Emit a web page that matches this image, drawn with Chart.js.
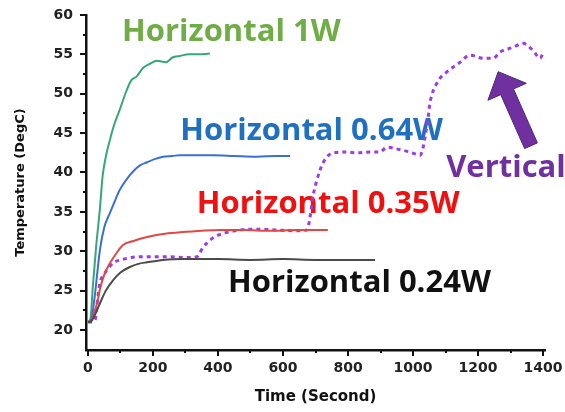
<!DOCTYPE html>
<html>
<head>
<meta charset="utf-8">
<script src="https://cdn.jsdelivr.net/npm/chart.js@4.4.1/dist/chart.umd.min.js"></script>
<style>
  html, body { margin: 0; padding: 0; background: #fff; }
  #wrap { width: 565px; height: 412px; }
</style>
</head>
<body>
<div id="wrap"><canvas id="tempChart" width="565" height="412"></canvas></div>
<script>
// --- data ----------------------------------------------------------------
const xTicks = [0, 200, 400, 600, 800, 1000, 1200, 1400];
const yTicks = [20, 25, 30, 35, 40, 45, 50, 55, 60];

const h1wTime = [0, 8, 15, 25, 37, 45, 55, 68, 80, 98, 115, 133, 150, 170, 190, 212, 240, 260, 283, 310, 340, 375];
const h1wTemp = [21, 21.5, 25.5, 30.5, 35.5, 39.5, 42, 44.2, 46, 48, 50, 51.7, 52.2, 53.3, 53.8, 54.2, 54.0, 54.6, 54.8, 55.0, 55.0, 55.1];

const h064Time = [0, 10, 20, 37, 50, 68, 85, 98, 120, 138, 160, 182, 205, 231, 260, 283, 330, 385, 450, 520, 580, 622];
const h064Temp = [21, 21.3, 24, 30.2, 33, 34.9, 36.6, 37.8, 39.2, 40.1, 40.9, 41.3, 41.7, 42.0, 42.1, 42.2, 42.2, 42.2, 42.1, 42.0, 42.1, 42.1];

const h035Time = [0, 10, 20, 28, 37, 50, 68, 90, 108, 140, 182, 230, 283, 350, 406, 480, 560, 640, 700, 738];
const h035Temp = [21, 21.2, 22.3, 23.4, 25.2, 27, 28.5, 29.9, 30.8, 31.3, 31.8, 32.2, 32.4, 32.6, 32.7, 32.7, 32.6, 32.7, 32.7, 32.7];

const h024Time = [0, 10, 20, 37, 55, 77, 100, 129, 155, 182, 231, 300, 400, 500, 600, 700, 800, 883];
const h024Temp = [21, 21.1, 21.8, 23.4, 25, 26.3, 27.3, 28, 28.4, 28.6, 28.9, 29, 29, 28.9, 29, 28.9, 28.9, 28.9];

const vertTime = [0, 10, 22, 30, 37, 48, 58, 77, 100, 120, 160, 200, 250, 300, 335, 354, 370, 385, 405, 428, 468, 520, 580, 640, 674,
  683, 692, 704, 723, 754, 797, 828, 868, 898, 920, 960, 990, 1022, 1030, 1037, 1045, 1052, 1074, 1105, 1145, 1175, 1215, 1246,
  1268, 1308, 1338, 1369, 1391, 1400];
const vertTemp = [21, 21, 21.3, 24, 26, 27, 27.6, 28.5, 28.9, 29.1, 29.3, 29.3, 29.3, 29.2, 29.3, 30.5, 31.2, 31.7, 32.1, 32.4, 32.7, 32.8, 32.7, 32.6, 32.7,
  34.3, 36.9, 39, 41.2, 42.5, 42.6, 42.5, 42.6, 42.6, 43.2, 42.9, 42.6, 42.2, 43, 44.5, 46.5, 48.8, 51.4, 52.8, 54, 54.9, 54.5, 54.5,
  55.3, 55.9, 56.4, 55.5, 54.5, 55.2];

// --- helpers --------------------------------------------------------------
function pts(xs, ys) {
  return xs.map(function (x, i) { return { x: x, y: ys[i] }; });
}

const LABEL_FONT = 'bold 31px "Open Sans"';

// curve labels, anchored in data units (left / baseline)
const curveLabels = [
  { text: 'Horizontal 1W',    color: '#70ad47', x: 105,  y: 56.7 },
  { text: 'Horizontal 0.64W', color: '#1f70c1', x: 284,  y: 44.1 },
  { text: 'Horizontal 0.35W', color: '#f01010', x: 335,  y: 34.9 },
  { text: 'Horizontal 0.24W', color: '#111111', x: 431,  y: 24.8 },
  { text: 'Vertical',         color: '#7030a0', x: 1102, y: 39.4 }
];
const arrowFrom = { x: 1363, y: 43.4 };
const arrowTo = { x: 1262, y: 52.8 };

// text + arrow under the curves, tick marks on the axes
const decorPlugin = {
  id: 'decor',
  beforeDatasetsDraw: function (chart) {
    const ctx = chart.ctx, xs = chart.scales.x, ys = chart.scales.y;
    ctx.save();
    ctx.font = LABEL_FONT;
    ctx.textAlign = 'left';
    ctx.textBaseline = 'alphabetic';
    curveLabels.forEach(function (l) {
      ctx.fillStyle = l.color;
      ctx.fillText(l.text, xs.getPixelForValue(l.x), ys.getPixelForValue(l.y));
    });

    // block arrow
    const x0 = xs.getPixelForValue(arrowFrom.x), y0 = ys.getPixelForValue(arrowFrom.y);
    const x1 = xs.getPixelForValue(arrowTo.x), y1 = ys.getPixelForValue(arrowTo.y);
    const len = Math.hypot(x1 - x0, y1 - y0);
    const ux = (x1 - x0) / len, uy = (y1 - y0) / len;
    const nx = -uy, ny = ux;
    const sw = 7, hw = 21, hl = 22;
    const bx = x1 - ux * hl, by = y1 - uy * hl;
    ctx.beginPath();
    ctx.moveTo(x0 + nx * sw, y0 + ny * sw);
    ctx.lineTo(bx + nx * sw, by + ny * sw);
    ctx.lineTo(bx + nx * hw, by + ny * hw);
    ctx.lineTo(x1, y1);
    ctx.lineTo(bx - nx * hw, by - ny * hw);
    ctx.lineTo(bx - nx * sw, by - ny * sw);
    ctx.lineTo(x0 - nx * sw, y0 - ny * sw);
    ctx.closePath();
    ctx.fillStyle = '#7030a0';
    ctx.fill();
    ctx.strokeStyle = '#4b2a7a';
    ctx.lineWidth = 1;
    ctx.stroke();
    ctx.restore();
  },
  afterDraw: function (chart) {
    const ctx = chart.ctx, xs = chart.scales.x, ys = chart.scales.y;
    const area = chart.chartArea;
    ctx.save();
    ctx.strokeStyle = '#111';
    ctx.lineWidth = 2;
    ctx.beginPath();
    for (let v = 0; v <= 1400; v += 100) {
      const px = Math.round(xs.getPixelForValue(v));
      ctx.moveTo(px, area.bottom);
      ctx.lineTo(px, area.bottom + (v % 200 === 0 ? 6 : 3));
    }
    for (let v = 20; v <= 60; v += 2.5) {
      const py = Math.round(ys.getPixelForValue(v));
      ctx.moveTo(area.left, py);
      ctx.lineTo(area.left - (v % 5 === 0 ? 6 : 3), py);
    }
    ctx.stroke();
    ctx.restore();
  }
};

function line(data, color, width, dash) {
  return {
    data: data,
    borderColor: color,
    borderWidth: width,
    borderDash: dash || [],
    pointRadius: 0,
    fill: false,
    cubicInterpolationMode: 'monotone'
  };
}

new Chart(document.getElementById('tempChart'), {
  type: 'line',
  data: {
    datasets: [
      line(pts(h024Time, h024Temp), '#4a4a4a', 2),
      line(pts(h035Time, h035Temp), '#e04848', 2),
      line(pts(h064Time, h064Temp), '#3b6fd6', 2),
      line(pts(h1wTime, h1wTemp), '#36a878', 2),
      line(pts(vertTime, vertTemp), '#9b3de0', 3, [4, 4])
    ]
  },
  options: {
    responsive: false,
    animation: false,
    devicePixelRatio: 1,
    layout: { padding: { top: 15, right: 20, left: 0, bottom: 0 } },
    plugins: { legend: { display: false }, tooltip: { enabled: false } },
    scales: {
      x: {
        type: 'linear',
        min: -6,
        max: 1406,
        afterBuildTicks: function (s) { s.ticks = xTicks.map(function (v) { return { value: v }; }); },
        afterFit: function (s) { s.height = 62; s.paddingLeft = 0; s.paddingRight = 0; },
        grid: { display: false, drawTicks: false },
        border: { display: true, color: '#111', width: 2.5 },
        ticks: {
          color: '#222',
          font: { family: 'DejaVu Sans', size: 14, weight: 'bold' },
          padding: 10,
          maxRotation: 0,
          callback: function (v) { return String(v); }
        },
        title: {
          display: true,
          text: 'Time (Second)',
          color: '#111',
          font: { family: 'DejaVu Sans', size: 15, weight: 'bold' },
          padding: { top: 0, bottom: 6 }
        }
      },
      y: {
        min: 17.46,
        max: 60,
        afterBuildTicks: function (s) { s.ticks = yTicks.map(function (v) { return { value: v }; }); },
        afterFit: function (s) { s.width = 86; s.paddingTop = 0; s.paddingBottom = 0; },
        grid: { display: false, drawTicks: false },
        border: { display: true, color: '#111', width: 2.5 },
        ticks: {
          color: '#222',
          font: { family: 'DejaVu Sans', size: 14, weight: 'bold' },
          padding: 13,
          callback: function (v) { return String(v); }
        },
        title: {
          display: true,
          text: 'Temperature (DegC)',
          color: '#111',
          font: { family: 'DejaVu Sans', size: 13, weight: 'bold' },
          padding: { top: 13, bottom: 0 }
        }
      }
    }
  },
  plugins: [decorPlugin]
});
</script>
</body>
</html>
